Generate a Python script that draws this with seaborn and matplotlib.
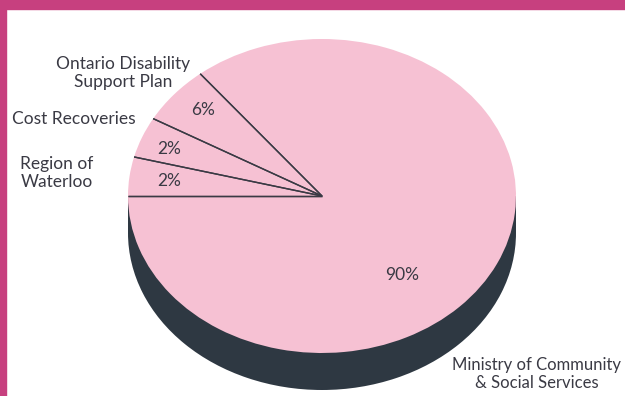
import matplotlib
matplotlib.use("Agg")
import matplotlib.pyplot as plt
from matplotlib.patches import Rectangle
import numpy as np
import seaborn as sns

# ---- data ----
categories = ["Region of\nWaterloo", "Cost Recoveries", "Ontario Disability\nSupport Plan",
              "Ministry of Community\n& Social Services"]
pct_labels = ["2%", "2%", "6%", "90%"]
# slice sizes as drawn in the picture (small slices are exaggerated in the original)
drawn_share = [4.0, 4.2, 6.0, 85.8]

sns.set_theme(style="white")
plt.rcParams["font.family"] = ["Lato", "DejaVu Sans"]

W, H = 625, 396
fig = plt.figure(figsize=(W / 100, H / 100), dpi=100)
fig.patch.set_facecolor("white")

# pie geometry in pixels
cx, cy, rx, ry, depth = 322, 196, 194, 157, 37


def to_pie(px, py):
    return (px - cx) / rx, (cy - py) / ry


ax = fig.add_axes([0, 0, 1, 1])
pink = "#f6c1d3"
dark = "#2e3842"
line_c = "#3a3a44"

d = depth / ry
# side of the disc
ax.pie([1], colors=[dark], radius=1, center=(0, -d), startangle=0,
       wedgeprops=dict(linewidth=0))
ax.fill_between([-1, 1], -d, 0, color=dark, linewidth=0)
# top face
wedges, _ = ax.pie(drawn_share, colors=[pink] * len(drawn_share), radius=1,
                   center=(0, 0), startangle=180, counterclock=False,
                   wedgeprops=dict(linewidth=0))
for w in wedges:
    for th in (w.theta1, w.theta2):
        t = np.deg2rad(th)
        ax.plot([0, np.cos(t)], [0, np.sin(t)], color=line_c, lw=1.0,
                solid_capstyle="butt")

x0, y0 = to_pie(0, H)
x1, y1 = to_pie(W, 0)
ax.set_xlim(x0, x1)
ax.set_ylim(y0, y1)
ax.set_aspect("auto")
ax.axis("off")

txt_c = "#3a3a44"
fs = 12.5


def ftext(px, py, s, size=fs, **kw):
    kw.setdefault("ha", "center")
    fig.text(px / W, 1 - py / H, s, color=txt_c, fontsize=size, va="center",
             multialignment="center", linespacing=1.1, **kw)


# category labels
ftext(123, 73, categories[2])
ftext(74, 119, categories[1])
ftext(57, 173, categories[0])
ftext(621, 374, categories[3], size=12, ha="right")
# percent labels
ftext(203, 110, pct_labels[2])
ftext(169, 149, pct_labels[1])
ftext(169, 181, pct_labels[0])
ftext(402, 275, pct_labels[3])

# magenta frame
mag = "#c7407f"
fig.patches.append(Rectangle((0, 1 - 9 / H), 1, 9 / H, transform=fig.transFigure,
                             color=mag, zorder=10))
fig.patches.append(Rectangle((0, 0), 6 / W, 1, transform=fig.transFigure,
                             color=mag, zorder=10))

fig.savefig("out.png", dpi=100)
